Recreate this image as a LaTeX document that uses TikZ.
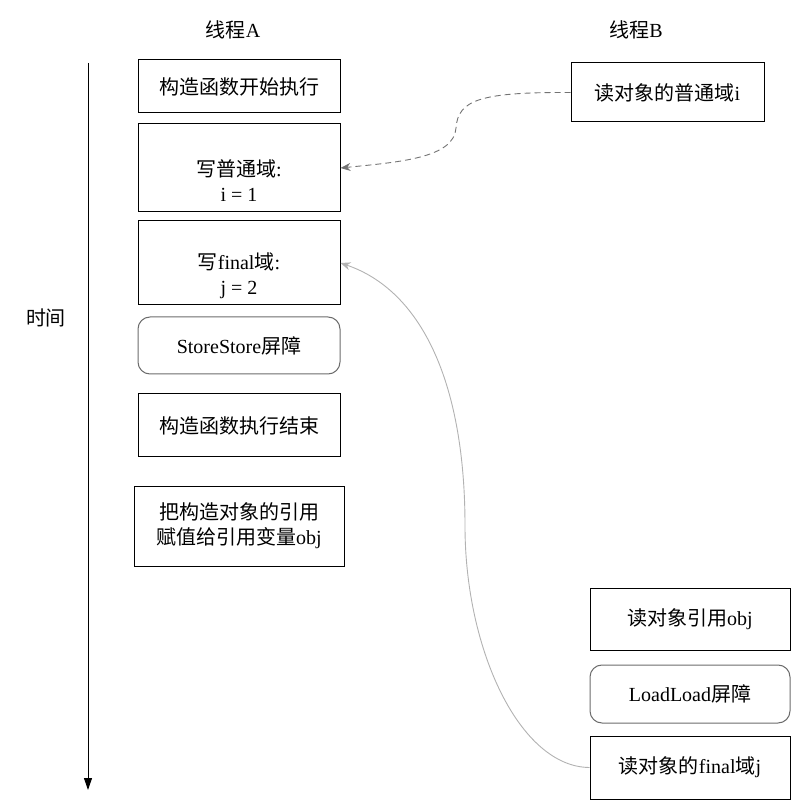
\documentclass[tikz,border=0pt]{standalone}
\usepackage{fontspec}
\setmainfont{Liberation Serif}
\newfontfamily\cjk{Noto Sans CJK SC}
\usetikzlibrary{arrows.meta}

\tikzset{
  stepbox/.style={draw,line width=1pt,minimum width=202pt,align=center,inner sep=2pt},
  barrier/.style={stepbox,draw=gray!85!black,rounded corners=12pt},
  readlink/.style={gray!90!black,line width=0.9pt,dash pattern=on 6pt off 4pt,-{Stealth[length=10pt,width=8pt]}},
  finallink/.style={gray!60,line width=0.9pt,-{Stealth[length=10pt,width=8pt]}},
}

\begin{document}
\begin{tikzpicture}[x=1pt,y=-1pt,font=\fontsize{20}{25}\selectfont]
\useasboundingbox (0,0) rectangle (812,810);
    \node (ta) at (233,30) {{\cjk 线程}A};
    \node (tb) at (636,30) {{\cjk 线程}B};
    \coordinate (t0) at (88,63);
    \coordinate (t1) at (88,790);
    \draw[line width=1pt,-{Triangle[length=12pt,width=8pt]}] (t0) -- (t1);
    \node (time) at (46,318) {\cjk 时间};
    % thread A
    \node[stepbox,minimum height=53pt] (cs) at (239,86.5) {\cjk 构造函数开始执行};
    \node[stepbox,minimum height=88pt] (wi) at (239,168) {\strut\\{\cjk 写普通域}:\\i = 1};
    \node[stepbox,minimum height=84pt] (wj) at (239,263) {\strut\\{\cjk 写}final{\cjk 域}:\\j = 2};
    \node[barrier,minimum height=57pt] (ss) at (239,345.5) {StoreStore{\cjk 屏障}};
    \node[stepbox,minimum height=63pt] (ce) at (239,425.5) {\cjk 构造函数执行结束};
    \node[stepbox,minimum width=210pt,minimum height=80pt] (as) at (239,526) {{\cjk 把构造对象的引用}\\{\cjk 赋值给引用变量}obj};
    % thread B
    \node[stepbox,minimum width=193pt,minimum height=59pt] (ri) at (667.5,92.5) {{\cjk 读对象的普通域}i};
    \node[stepbox,minimum width=200pt,minimum height=62pt] (ro) at (690,619) {{\cjk 读对象引用}obj};
    \node[barrier,minimum width=200pt,minimum height=58pt] (ll) at (690,694) {LoadLoad{\cjk 屏障}};
    \node[stepbox,minimum width=200pt,minimum height=63pt] (rj) at (690,767.5) {{\cjk 读对象的}final{\cjk 域}j};
    % reads
    \coordinate (k1) at (456,128);
    \coordinate (k2) at (465,526);
    \draw[readlink] (ri.west) .. controls (480,92) and (458,100) .. (k1) .. controls (454,158) and (400,162) .. (wi.east);
    \draw[finallink] (rj.west) .. controls (520,767) and (465,650) .. (k2) .. controls (465,380) and (420,290) .. (wj.east);
\end{tikzpicture}
\end{document}
